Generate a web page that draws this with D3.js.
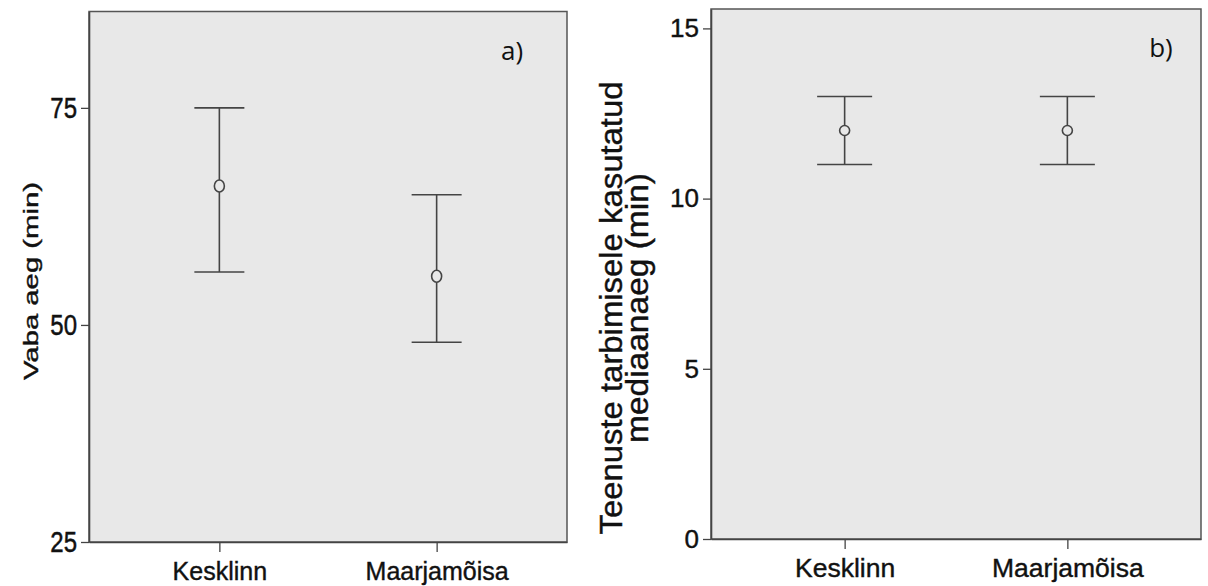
<!DOCTYPE html>
<html>
<head>
<meta charset="utf-8">
<script src="https://cdn.jsdelivr.net/npm/d3@7"></script>
<style>
  body { margin: 0; background: #fff; }
  svg { display: block; }
</style>
</head>
<body>
<script>
// Data
const categories = ["Kesklinn", "Maarjamõisa"];

// a) Vaba aeg (min)
const freeMean = [66.0, 55.6];
const freeLow = [56.1, 48.0];
const freeHigh = [75.0, 65.0];
const freeTicks = [25, 50, 75];

// b) Teenuste tarbimisele kasutatud mediaanaeg (min)
const serviceMean = [12, 12];
const serviceLow = [11, 11];
const serviceHigh = [13, 13];
const serviceTicks = [0, 5, 10, 15];

const width = 1208;
const height = 586;

const svg = d3.select("body").append("svg")
    .attr("width", width)
    .attr("height", height);

function drawPanel(p) {
    const x = d3.scalePoint()
        .domain(categories)
        .range([p.left, p.right])
        .padding(0.6);

    const y = d3.scaleLinear()
        .domain(p.domain)
        .range([p.bottom, p.top]);

    const g = svg.append("g");

    // plot background
    g.append("rect")
        .attr("x", p.left)
        .attr("y", p.top)
        .attr("width", p.right - p.left)
        .attr("height", p.bottom - p.top)
        .attr("fill", "#e8e8e8")
        .attr("stroke", "#555")
        .attr("stroke-width", 1.5);

    // y axis
    const yAxis = g.append("g")
        .attr("transform", `translate(${p.left},0)`)
        .call(d3.axisLeft(y).tickValues(p.ticks).tickSize(8).tickSizeOuter(0).tickPadding(4));
    yAxis.select(".domain").attr("stroke", "#444").attr("stroke-width", 1.6);
    yAxis.selectAll(".tick line").attr("stroke", "#444").attr("stroke-width", 1.3);
    yAxis.selectAll(".tick text")
        .attr("font-family", "Liberation Sans, Arial, sans-serif")
        .attr("font-size", p.yTickSize)
        .attr("fill", "#111")
        .attr("stroke", "#111")
        .attr("stroke-width", 0.4)
        .attr("transform", `scale(${p.yTickScale[0]},${p.yTickScale[1]})`);

    // x axis
    const xAxis = g.append("g")
        .attr("transform", `translate(0,${p.bottom})`)
        .call(d3.axisBottom(x).tickSize(10).tickSizeOuter(0).tickPadding(p.xPad));
    xAxis.select(".domain").attr("stroke", "#444").attr("stroke-width", 1.6);
    xAxis.selectAll(".tick line").attr("stroke", "#444").attr("stroke-width", 1.3);
    xAxis.selectAll(".tick text")
        .attr("font-family", "Liberation Sans, Arial, sans-serif")
        .attr("font-size", p.xTickSize)
        .attr("fill", "#111")
        .attr("stroke", "#111")
        .attr("stroke-width", 0.4);

    // error bars
    const bars = g.append("g")
        .selectAll("g")
        .data(categories)
        .enter().append("g")
            .attr("stroke", "#444")
            .attr("stroke-width", 1.6)
            .attr("fill", "none");

    bars.append("line")
        .attr("x1", d => x(d))
        .attr("x2", d => x(d))
        .attr("y1", (d, i) => y(p.low[i]))
        .attr("y2", (d, i) => y(p.high[i]));

    bars.append("line")
        .attr("x1", d => x(d) - p.cap)
        .attr("x2", d => x(d) + p.cap)
        .attr("y1", (d, i) => y(p.high[i]))
        .attr("y2", (d, i) => y(p.high[i]));

    bars.append("line")
        .attr("x1", d => x(d) - p.cap)
        .attr("x2", d => x(d) + p.cap)
        .attr("y1", (d, i) => y(p.low[i]))
        .attr("y2", (d, i) => y(p.low[i]));

    bars.append("ellipse")
        .attr("cx", d => x(d))
        .attr("cy", (d, i) => y(p.mean[i]))
        .attr("rx", 5)
        .attr("ry", p.ry)
        .attr("fill", "#e8e8e8");

    // panel letter
    g.append("text")
        .attr("x", p.letterX)
        .attr("y", p.letterY)
        .attr("text-anchor", "middle")
        .attr("font-family", "Open Sans, sans-serif")
        .attr("font-size", 26)
        .attr("fill", "#111")
        .text(p.letter);

    // y title lines
    p.title.forEach((t, i) => {
        g.append("text")
            .attr("transform", `translate(${p.titleX[i]},${p.titleY}) rotate(-90)`)
            .attr("text-anchor", "middle")
            .attr("font-family", "Liberation Sans, Arial, sans-serif")
            .attr("font-size", p.titleSize)
            .attr("textLength", p.titleLen[i])
            .attr("lengthAdjust", "spacingAndGlyphs")
            .attr("fill", "#111")
            .attr("stroke", "#111")
            .attr("stroke-width", 0.4)
            .text(t);
    });
}

drawPanel({
    left: 89, right: 567, top: 11.5, bottom: 542,
    domain: [25, 86.1],
    ticks: freeTicks,
    mean: freeMean, low: freeLow, high: freeHigh,
    cap: 25, ry: 6,
    yTickSize: 24, yTickScale: [1, 1.25],
    xTickSize: 25, xPad: 10,
    letter: "a)", letterX: 512, letterY: 60,
    title: ["Vaba aeg (min)"], titleX: [38], titleY: 281,
    titleSize: 21, titleLen: [198]
});

drawPanel({
    left: 711, right: 1201, top: 9, bottom: 539,
    domain: [0, 15.57],
    ticks: serviceTicks,
    mean: serviceMean, low: serviceLow, high: serviceHigh,
    cap: 27.5, ry: 5,
    yTickSize: 26, yTickScale: [1, 1],
    xTickSize: 26.5, xPad: 9,
    letter: "b)", letterX: 1161, letterY: 57,
    title: ["Teenuste tarbimisele kasutatud", "mediaanaeg (min)"],
    titleX: [622, 648], titleY: 308,
    titleSize: 31, titleLen: [453, 270]
});
</script>
</body>
</html>
